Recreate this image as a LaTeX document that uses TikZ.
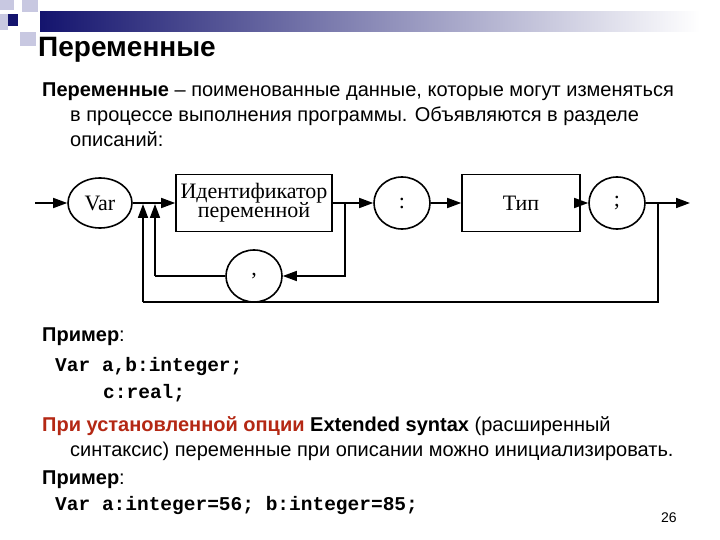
\documentclass[tikz,border=0pt]{standalone}
\usepackage{fontspec}
\usetikzlibrary{shapes.geometric,arrows.meta,calc}
\setmainfont{Liberation Sans}
\setmonofont{Liberation Mono}
\newfontfamily\serifcyr{Liberation Serif}
\definecolor{navy}{RGB}{20,20,110}
\definecolor{lav}{RGB}{200,200,225}
\definecolor{redt}{RGB}{180,40,20}
\begin{document}
\begin{tikzpicture}[x=1pt,y=-1pt,
  oval/.style={draw,line width=1.6pt,ellipse,minimum width=56pt,minimum height=52pt,inner sep=0pt,font=\serifcyr\fontsize{22}{22}\selectfont},
  blk/.style={draw,line width=1.6pt,rectangle,inner sep=0pt,font=\serifcyr\fontsize{22}{22}\selectfont,align=center},
  ln/.style={line width=1.6pt},
  arr/.style={line width=1.6pt,-{Triangle[length=14pt,width=10pt]}},
  txt/.style={anchor=base west,inner sep=0pt,font=\fontsize{20}{22}\selectfont},
  code/.style={anchor=base west,inner sep=0pt,font=\ttfamily\bfseries\fontsize{19.5}{22}\selectfont}]
\useasboundingbox (0,0) rectangle (720,540);
\fill[white] (0,0) rectangle (720,540);
% header decoration
\shade[left color=navy,right color=white] (40,12) rectangle (700,32);
\fill[lav] (0,0) rectangle (14,10);
\fill[lav] (22,0) rectangle (38,12);
\fill[lav] (0,14) rectangle (8,30);
\fill[navy] (8,14) rectangle (18,26);
\fill[lav] (20,32) rectangle (36,46);
\node[anchor=base west,inner sep=0pt,font=\bfseries\fontsize{28}{30}\selectfont] (title) at (38,57) {Переменные};
\node[txt] (l1) at (42,97) {\textbf{Переменные} – поименованные данные, которые могут изменяться};
\node[txt] (l2) at (70,122) {в процессе выполнения программы. Объявляются в разделе};
\node[txt] (l3) at (70,147) {описаний:};
% diagram
\node[oval,minimum width=64pt,minimum height=50pt] (var) at (100,203) {Var};
\node[blk,minimum width=156pt,minimum height=57pt] (id) at (254,203) {Идентификатор\\[-3pt]переменной};
\node[oval] (col) at (402,203) {:};
\node[blk,minimum width=118pt,minimum height=57pt] (typ) at (521,203) {Тип};
\node[oval] (sem) at (617,203) {;};
\node[oval] (com) at (254,276) {,};
\coordinate (in) at (35,203);
\coordinate (out) at (690,203);
\coordinate (r1) at (345,203);
\coordinate (r2) at (658,203);
\coordinate (t1) at (155,276);
\coordinate (t2) at (143,302);
\draw[arr] (in) -- (var.west);
\draw[arr] (var.east) -- (id.west);
\draw[arr] (id.east) -- (col.west);
\draw[arr] (col.east) -- (typ.west);
\draw[arr] (typ.east) -- (sem.west);
\draw[arr] (sem.east) -- (out);
\draw[arr] (r1) |- (com.east);
\draw[ln] (com.west) -- (t1);
\draw[arr] (t1) -- (155,204);
\draw[ln] (r2) |- (t2);
\draw[arr] (t2) -- (143,204);
% example
\node[txt] (p1) at (42,341) {\textbf{Пример}:};
\node[code] (c1) at (55,371) {Var a,b:integer;};
\node[code] (c2) at (103,398) {c:real;};
\node[txt] (e1) at (42,431) {\textcolor{redt}{\textbf{При установленной опции}} \textbf{Extended syntax} (расширенный};
\node[txt] (e2) at (70,456) {синтаксис) переменные при описании можно инициализировать.};
\node[txt] (p2) at (42,484) {\textbf{Пример}:};
\node[code] (c3) at (55,510) {Var a:integer=56; b:integer=85;};
\node[txt,font=\fontsize{14}{16}\selectfont] (pg) at (661,522) {26};
\end{tikzpicture}
\end{document}
